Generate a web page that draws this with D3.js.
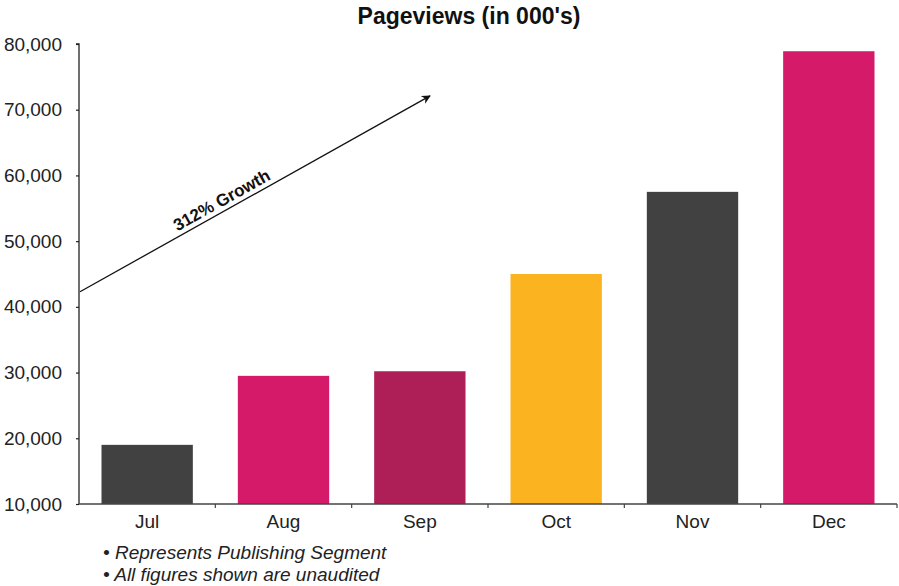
<!DOCTYPE html>
<html>
<head>
<meta charset="utf-8">
<script src="https://cdn.jsdelivr.net/npm/d3@7"></script>
<style>
  html, body { margin: 0; padding: 0; background: #fff; }
  svg { display: block; font-family: "Liberation Sans", Arial, Helvetica, sans-serif; }
</style>
</head>
<body>
<svg id="chart" width="899" height="586"></svg>
<script>
const months = ["Jul", "Aug", "Sep", "Oct", "Nov", "Dec"];
const pageviews = [19000, 29500, 30200, 45000, 57500, 78900];
const barColors = ["#414141", "#D41A68", "#AE1F57", "#FBB320", "#414141", "#D41A68"];
const yTicks = [10000, 20000, 30000, 40000, 50000, 60000, 70000, 80000];
const title = "Pageviews (in 000's)";
const arrowLabel = "312% Growth";
const arrowValues = [42300, 72100]; // arrow start (at Jul left edge) and end values
const footnotes = ["Represents Publishing Segment", "All figures shown are unaudited"];

const svg = d3.select("#chart");
const margin = { left: 79, right: 2, top: 44, bottom: 82 };
const W = 899, H = 586;

const x = d3.scaleBand().domain(months).range([margin.left, W - margin.right])
  .paddingInner(0.33).paddingOuter(0.165);
const xEdge = d3.scaleBand().domain(months).range([margin.left, W - margin.right]).padding(0);
const y = d3.scaleLinear().domain([10000, 80000]).range([H - margin.bottom, margin.top]);

// Bars
svg.append("g").selectAll("rect").data(months).join("rect")
  .attr("x", d => x(d))
  .attr("width", x.bandwidth())
  .attr("y", (d, i) => y(pageviews[i]))
  .attr("height", (d, i) => y(10000) - y(pageviews[i]))
  .attr("fill", (d, i) => barColors[i]);

// Y axis
const yAxis = d3.axisLeft(y).tickValues(yTicks).tickSize(3).tickPadding(14)
  .tickFormat(d3.format(","));
const gy = svg.append("g").attr("transform", `translate(${margin.left},0)`).call(yAxis);
gy.select(".domain").attr("stroke", "#222").attr("stroke-width", 1.3).attr("d", `M-3,${y(80000)}H0V${y(10000)}`);
gy.selectAll(".tick line").attr("stroke", "#222").attr("stroke-width", 1.2);
gy.selectAll(".tick text").attr("font-size", 19).attr("fill", "#222")
  .attr("font-family", "'Liberation Sans', Arial, sans-serif");

// X axis line + boundary ticks
const xBase = y(10000);
svg.append("line").attr("x1", margin.left).attr("x2", W - margin.right)
  .attr("y1", xBase).attr("y2", xBase).attr("stroke", "#444").attr("stroke-width", 1.5);
const edges = months.map(m => xEdge(m) + xEdge.bandwidth());
svg.append("g").selectAll("line").data(edges).join("line")
  .attr("x1", d => d).attr("x2", d => d)
  .attr("y1", xBase).attr("y2", xBase + 4)
  .attr("stroke", "#444").attr("stroke-width", 1.2);
svg.append("g").selectAll("text").data(months).join("text")
  .attr("x", d => x(d) + x.bandwidth() / 2)
  .attr("y", xBase + 24)
  .attr("text-anchor", "middle")
  .attr("font-size", 19).attr("fill", "#222")
  .text(d => d);

// Title
svg.append("text").attr("x", 469).attr("y", 24).attr("text-anchor", "middle")
  .attr("font-size", 23).attr("font-weight", "bold").attr("fill", "#111")
  .text(title);

// Arrow
svg.append("defs").append("marker")
  .attr("id", "arrowhead").attr("viewBox", "0 0 10 10")
  .attr("refX", 9).attr("refY", 5).attr("markerWidth", 12).attr("markerHeight", 9)
  .attr("markerUnits", "userSpaceOnUse").attr("orient", "auto")
  .append("path").attr("d", "M0,0 L10,5 L0,10 L3,5 Z").attr("fill", "#111");
const ax1 = margin.left + 1, ay1 = y(arrowValues[0]);
const ax2 = 430, ay2 = y(arrowValues[1]);
svg.append("line").attr("x1", ax1).attr("y1", ay1).attr("x2", ax2).attr("y2", ay2)
  .attr("stroke", "#111").attr("stroke-width", 1.3).attr("marker-end", "url(#arrowhead)");
const ang = Math.atan2(ay2 - ay1, ax2 - ax1) * 180 / Math.PI;
const t = 0.42;
const lx = ax1 + (ax2 - ax1) * t, ly = ay1 + (ay2 - ay1) * t;
svg.append("text")
  .attr("transform", `translate(${lx},${ly}) rotate(${ang}) translate(0,-5)`)
  .attr("text-anchor", "middle").attr("font-size", 17).attr("font-weight", "bold").attr("fill", "#111")
  .text(arrowLabel);

// Footnotes
const fn = svg.append("g");
footnotes.forEach((f, i) => {
  fn.append("text").attr("x", 103).attr("y", 559 + i * 22)
    .attr("font-size", 19).attr("font-style", "italic").attr("fill", "#222")
    .text("\u2022 " + f);
});
</script>
</body>
</html>
